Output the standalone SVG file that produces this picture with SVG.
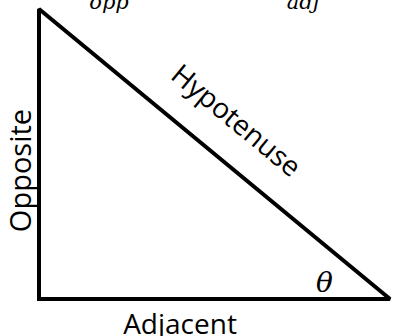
<svg xmlns="http://www.w3.org/2000/svg" width="394" height="336" viewBox="0 0 394 336">
<style>
.lbl{font-family:"Open Sans","Liberation Sans",sans-serif;font-size:28px;fill:#000}
.math{font-family:"DejaVu Serif","Liberation Serif",serif;font-style:italic;font-size:21px;fill:#000}
</style>
<rect width="394" height="336" fill="#fff"/>
<g id="connectors">
<path id="triangle" d="M39,9 L39,299 L390,299 Z" fill="none" stroke="#000" stroke-width="4" stroke-linejoin="miter" stroke-miterlimit="2"/>
</g>
<g id="label-opp"><text class="math" x="109" y="9" text-anchor="middle">opp</text></g>
<g id="label-adj"><text class="math" x="303" y="9" text-anchor="middle">adj</text></g>
<g id="label-hypotenuse"><text class="lbl" text-anchor="middle" transform="translate(230,128) rotate(39.6)">Hypotenuse</text></g>
<g id="label-opposite"><text class="lbl" text-anchor="middle" transform="translate(31,170.5) rotate(-90)" style="font-size:29px">Opposite</text></g>
<g id="label-adjacent"><text class="lbl" x="180" y="334" text-anchor="middle">Adjacent</text></g>
<g id="label-theta"><text class="math" x="324.5" y="292" text-anchor="middle" style="font-size:28px">θ</text></g>
</svg>
